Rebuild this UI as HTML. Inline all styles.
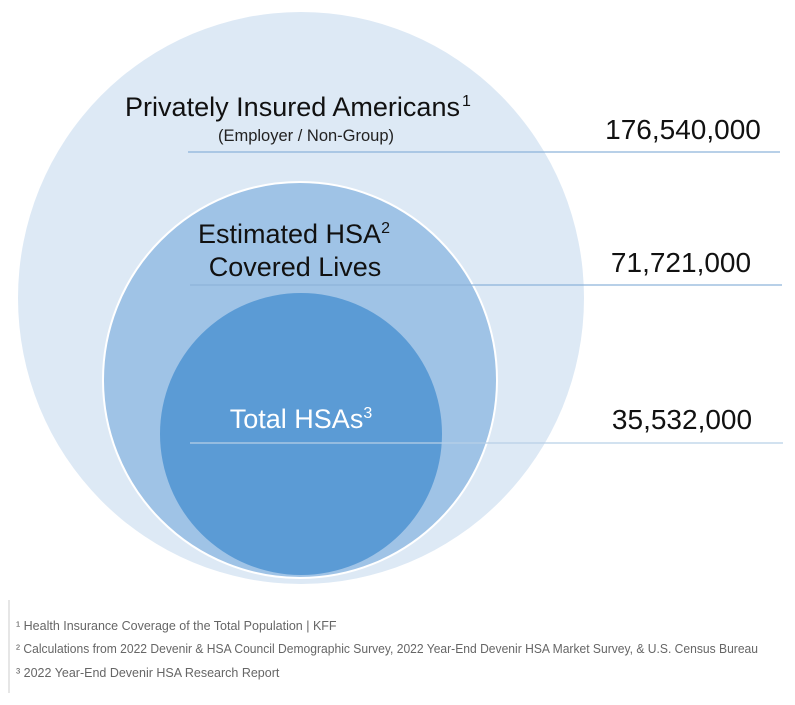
<!DOCTYPE html>
<html><head><meta charset="utf-8"><style>
body{margin:0;background:#fff;width:795px;height:700px;overflow:hidden;font-family:"Liberation Sans",sans-serif}
</style></head><body>
<svg width="795" height="700" xmlns="http://www.w3.org/2000/svg" font-family="Liberation Sans, sans-serif">
<rect width="795" height="700" fill="#fff"/>
<ellipse cx="301" cy="298" rx="283" ry="286" fill="#dde9f5"/>
<ellipse cx="300" cy="380" rx="197" ry="198" fill="#9fc3e6" stroke="#fff" stroke-width="2"/>
<ellipse cx="301" cy="434" rx="141" ry="141" fill="#5b9bd5"/>
<line x1="188" y1="152" x2="780" y2="152" stroke="#8db3da" stroke-width="1.2"/>
<line x1="190" y1="285" x2="782" y2="285" stroke="#8db3da" stroke-width="1.2"/>
<line x1="190" y1="443" x2="783" y2="443" stroke="#b8d0e8" stroke-width="1.2"/>
<text x="125" y="116" font-size="26.5" fill="#111" textLength="335" lengthAdjust="spacingAndGlyphs">Privately Insured Americans</text>
<text x="462" y="106" font-size="16" fill="#111">1</text>
<text x="306" y="141" font-size="16.5" fill="#222" text-anchor="middle">(Employer / Non-Group)</text>
<text x="294" y="243" font-size="27" fill="#111" text-anchor="middle">Estimated HSA<tspan font-size="16" dy="-10">2</tspan></text>
<text x="295" y="276" font-size="27" fill="#111" text-anchor="middle">Covered Lives</text>
<text x="301" y="428" font-size="27" fill="#fff" text-anchor="middle">Total HSAs<tspan font-size="16" dy="-10">3</tspan></text>
<text x="683" y="139" font-size="28" fill="#111" text-anchor="middle">176,540,000</text>
<text x="681" y="272" font-size="28" fill="#111" text-anchor="middle">71,721,000</text>
<text x="682" y="429" font-size="28" fill="#111" text-anchor="middle">35,532,000</text>
<line x1="9" y1="600" x2="9" y2="693" stroke="#ccc" stroke-width="1"/>
<text x="16" y="630" font-size="12.5" fill="#666">¹ Health Insurance Coverage of the Total Population | KFF</text>
<text x="16" y="653" font-size="12.5" fill="#666" textLength="742" lengthAdjust="spacingAndGlyphs">² Calculations from 2022 Devenir &amp; HSA Council Demographic Survey, 2022 Year-End Devenir HSA Market Survey, &amp; U.S. Census Bureau</text>
<text x="16" y="677" font-size="12.5" fill="#666">³ 2022 Year-End Devenir HSA Research Report</text>
</svg>
</body></html>
